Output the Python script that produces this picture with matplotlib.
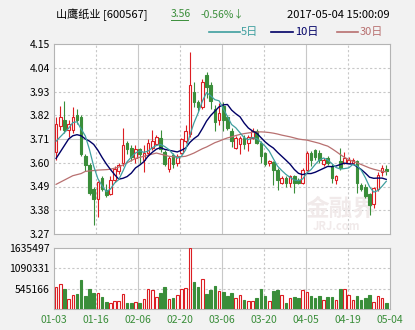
import matplotlib
matplotlib.use("Agg")
import matplotlib.pyplot as plt
from matplotlib.lines import Line2D
import numpy as np

plt.rcParams['font.family'] = ['Noto Sans CJK SC', 'DejaVu Sans']

# daily candles, 山鹰纸业 2017-01-03 .. 2017-05-04
opens = [3.65, 3.77, 3.80, 3.75, 3.75, 3.82, 3.81, 3.63, 3.59, 3.48,
         3.43, 3.53, 3.475, 3.455, 3.52, 3.56, 3.60, 3.69, 3.67, 3.62,
         3.665, 3.612, 3.646, 3.67, 3.685, 3.716, 3.65, 3.569, 3.638, 3.60,
         3.646, 3.70, 3.732, 3.926, 3.88, 3.856, 4.005, 3.96, 3.85, 3.80,
         3.864, 3.81, 3.745, 3.67, 3.685, 3.716, 3.69, 3.716, 3.747, 3.693,
         3.645, 3.597, 3.605, 3.568, 3.506, 3.53, 3.506, 3.537, 3.52, 3.506,
         3.568, 3.645, 3.66, 3.645, 3.592, 3.623, 3.584, 3.522, 3.607, 3.60,
         3.60, 3.60, 3.607, 3.499, 3.49, 3.455, 3.41, 3.48, 3.555, 3.57]
highs = [3.81, 3.865, 3.885, 3.80, 3.856, 3.85, 3.82, 3.64, 3.60, 3.49,
         3.515, 3.54, 3.50, 3.54, 3.585, 3.60, 3.76, 3.70, 3.68, 3.68,
         3.67, 3.68, 3.71, 3.754, 3.73, 3.75, 3.66, 3.63, 3.646, 3.64,
         3.716, 3.775, 4.113, 3.973, 3.89, 3.99, 4.02, 3.975, 3.866, 3.875,
         3.88, 3.82, 3.76, 3.725, 3.725, 3.73, 3.73, 3.76, 3.755, 3.70,
         3.65, 3.615, 3.61, 3.576, 3.537, 3.537, 3.545, 3.545, 3.53, 3.576,
         3.654, 3.656, 3.665, 3.66, 3.623, 3.63, 3.595, 3.545, 3.67, 3.65,
         3.627, 3.623, 3.615, 3.506, 3.50, 3.46, 3.49, 3.555, 3.59, 3.59]
lows = [3.615, 3.75, 3.74, 3.72, 3.74, 3.78, 3.63, 3.56, 3.45, 3.31,
        3.35, 3.47, 3.44, 3.45, 3.51, 3.55, 3.585, 3.64, 3.61, 3.60,
        3.60, 3.555, 3.63, 3.66, 3.68, 3.65, 3.585, 3.555, 3.575, 3.585,
        3.64, 3.69, 3.72, 3.856, 3.84, 3.848, 3.90, 3.85, 3.745, 3.775,
        3.745, 3.75, 3.675, 3.662, 3.64, 3.662, 3.654, 3.71, 3.685, 3.60,
        3.584, 3.584, 3.495, 3.474, 3.50, 3.49, 3.49, 3.46, 3.50, 3.50,
        3.56, 3.584, 3.615, 3.60, 3.584, 3.59, 3.506, 3.50, 3.568, 3.592,
        3.597, 3.592, 3.46, 3.467, 3.436, 3.36, 3.39, 3.467, 3.537, 3.545]
closes = [3.78, 3.81, 3.75, 3.78, 3.81, 3.80, 3.64, 3.59, 3.46, 3.43,
          3.51, 3.48, 3.45, 3.52, 3.57, 3.59, 3.68, 3.665, 3.625, 3.665,
          3.64, 3.646, 3.693, 3.70, 3.72, 3.665, 3.595, 3.623, 3.592, 3.63,
          3.708, 3.747, 3.96, 3.88, 3.86, 3.976, 3.95, 3.885, 3.79, 3.832,
          3.80, 3.763, 3.70, 3.716, 3.716, 3.685, 3.72, 3.747, 3.693, 3.63,
          3.595, 3.607, 3.565, 3.522, 3.53, 3.506, 3.537, 3.506, 3.506, 3.568,
          3.646, 3.615, 3.625, 3.612, 3.612, 3.60, 3.53, 3.537, 3.576, 3.623,
          3.612, 3.612, 3.506, 3.478, 3.446, 3.405, 3.483, 3.545, 3.576, 3.56]
volumes = [590, 663, 527, 273, 363, 390, 772, 336, 527, 427,
           427, 318, 200, 173, 227, 227, 390, 173, 173, 200,
           173, 273, 527, 500, 309, 427, 581, 273, 290, 363,
           527, 554, 1635, 718, 581, 800, 390, 500, 609, 472,
           445, 336, 418, 282, 363, 254, 227, 227, 282, 527,
           336, 227, 472, 500, 363, 173, 282, 309, 282, 500,
           445, 336, 282, 336, 254, 309, 309, 254, 527, 527,
           363, 254, 336, 254, 282, 363, 200, 336, 282, 173]
volumes = [v * 1000 for v in volumes]

ma5 = [3.70, 3.72, 3.74, 3.76, 3.786, 3.79, 3.756, 3.724, 3.66, 3.584,
       3.526, 3.494, 3.466, 3.478, 3.506, 3.522, 3.562, 3.605, 3.626, 3.645,
       3.655, 3.648, 3.654, 3.669, 3.68, 3.685, 3.675, 3.661, 3.639, 3.621,
       3.63, 3.66, 3.727, 3.785, 3.831, 3.885, 3.925, 3.91, 3.892, 3.887,
       3.851, 3.814, 3.777, 3.762, 3.739, 3.716, 3.707, 3.717, 3.712, 3.695,
       3.677, 3.654, 3.618, 3.584, 3.564, 3.546, 3.532, 3.52, 3.517, 3.525,
       3.553, 3.568, 3.592, 3.613, 3.622, 3.613, 3.596, 3.578, 3.571, 3.573,
       3.576, 3.592, 3.586, 3.566, 3.531, 3.489, 3.464, 3.471, 3.491, 3.514]
ma10 = [3.62, 3.65, 3.68, 3.71, 3.725, 3.73, 3.725, 3.71, 3.70, 3.685,
        3.658, 3.625, 3.595, 3.569, 3.545, 3.524, 3.528, 3.536, 3.552, 3.576,
        3.589, 3.605, 3.63, 3.648, 3.663, 3.67, 3.662, 3.658, 3.654, 3.65,
        3.658, 3.668, 3.694, 3.712, 3.726, 3.758, 3.793, 3.819, 3.839, 3.859,
        3.868, 3.87, 3.844, 3.827, 3.813, 3.784, 3.761, 3.747, 3.737, 3.717,
        3.697, 3.681, 3.668, 3.648, 3.63, 3.612, 3.593, 3.569, 3.551, 3.545,
        3.55, 3.55, 3.556, 3.565, 3.574, 3.583, 3.582, 3.585, 3.592, 3.598,
        3.595, 3.594, 3.582, 3.569, 3.552, 3.533, 3.528, 3.529, 3.529, 3.523]
ma30 = [3.50, 3.51, 3.52, 3.53, 3.54, 3.545, 3.55, 3.56, 3.562, 3.564,
        3.566, 3.567, 3.568, 3.57, 3.575, 3.58, 3.59, 3.60, 3.61, 3.62,
        3.625, 3.63, 3.635, 3.64, 3.645, 3.64, 3.635, 3.63, 3.628, 3.627,
        3.628, 3.63, 3.637, 3.645, 3.655, 3.665, 3.673, 3.683, 3.693, 3.70,
        3.708, 3.715, 3.72, 3.726, 3.731, 3.735, 3.738, 3.741, 3.742, 3.743,
        3.742, 3.74, 3.737, 3.733, 3.728, 3.724, 3.72, 3.715, 3.71, 3.707,
        3.705, 3.70, 3.695, 3.69, 3.683, 3.677, 3.665, 3.652, 3.638, 3.625,
        3.615, 3.607, 3.60, 3.592, 3.584, 3.576, 3.57, 3.565, 3.56, 3.558]

price_ticks = [3.27, 3.38, 3.49, 3.60, 3.71, 3.82, 3.93, 4.04, 4.15]
vol_ticks = [545166, 1090331, 1635497]
date_labels = ['01-03', '01-16', '02-06', '02-20', '03-06', '03-20', '04-05', '04-19', '05-04']

RED = '#dc1e23'
GREEN = '#3a8e3a'
C5 = '#3f9f9f'
C10 = '#000066'
C30 = '#b87070'
GRID = '#c8c8c8'

fig = plt.figure(figsize=(4.15, 3.30), dpi=100, facecolor='#f2f2f2')
ax = fig.add_axes([54/415, 1-234/330, 336/415, 190/330], facecolor='white')
axv = fig.add_axes([54/415, 1-309/330, 336/415, 61/330], facecolor='white')

x = np.arange(len(closes))
o = np.array(opens); c = np.array(closes)
up = c >= o
xlim = (-0.5, 79.9)
xgrid = np.linspace(xlim[0], xlim[1], len(date_labels))

# grid
for a in (ax, axv):
    for k, gx in enumerate(xgrid[1:-1], start=1):
        a.axvline(gx, color=GRID, lw=0.8, ls='-' if k % 2 == 0 else (0, (2, 2)), zorder=0)
for k, p in enumerate(price_ticks[1:-1], start=1):
    ax.axhline(p, color=GRID, lw=0.8, ls='-' if k == 4 else (0, (2, 2)), zorder=0)
for v in vol_ticks[:-1]:
    axv.axhline(v, color=GRID, lw=0.8, ls=(0, (2, 2)), zorder=0)

# watermark
ax.text(0.855, 0.135, '金融界', transform=ax.transAxes, fontsize=17, fontweight='bold',
        color='#f1eaea', ha='center', va='center', zorder=1)
ax.text(0.84, 0.04, 'JRJ.com', transform=ax.transAxes, fontsize=8, fontweight='bold',
        fontstyle='italic', color='#f1eaea', ha='center', va='center', zorder=1)

# candles
cols = np.where(up, RED, GREEN)
ax.vlines(x, lows, highs, colors=cols, lw=0.8, zorder=3)
heights = np.maximum(np.abs(c - o), 0.004)
bottoms = np.minimum(o, c)
ax.bar(x, heights, bottom=bottoms, width=0.62, color=np.where(up, 'white', GREEN),
       edgecolor=cols, linewidth=0.8, zorder=4)

ax.plot(x, ma30, color=C30, lw=0.9, zorder=5)
ax.plot(x, ma10, color=C10, lw=1.0, zorder=5)
ax.plot(x, ma5, color=C5, lw=0.9, zorder=5)

# volume
axv.bar(x, volumes, width=0.62, color=np.where(up, 'white', GREEN),
        edgecolor=cols, linewidth=0.8, zorder=3)

ax.set_xlim(*xlim)
ax.set_ylim(3.27, 4.15)
ax.set_yticks(price_ticks)
ax.set_yticklabels(['%.2f' % p for p in price_ticks])
ax.set_xticks([])
axv.set_xlim(*xlim)
axv.set_ylim(0, vol_ticks[-1])
axv.set_yticks(vol_ticks)
axv.set_yticklabels([str(v) for v in vol_ticks])
axv.set_xticks(xgrid)
axv.set_xticklabels(date_labels, color=GREEN)

for a in (ax, axv):
    a.tick_params(length=0, labelsize=7.5, pad=3, colors='black')
    for s in a.spines.values():
        s.set_color('#b4b4b4')
        s.set_linewidth(0.8)
axv.tick_params(axis='x', labelcolor=GREEN, pad=4)

# header
fig.text(56/415, 1-15/330, '山鹰纸业 [600567]', fontsize=8, ha='left', va='center')
fig.text(171/415, 1-14/330, '3.56', fontsize=7.5, color=GREEN, ha='left', va='center')
fig.add_artist(Line2D([171/415, 188/415], [1-20/330, 1-20/330], color=GREEN, lw=0.7))
fig.text(201/415, 1-14/330, '-0.56%↓', fontsize=7.5, color=GREEN, ha='left', va='center')
fig.text(390/415, 1-15/330, '2017-05-04 15:00:09', fontsize=8, ha='right', va='center')

for x0, x1, tx, col, lab in [(209, 240, 241, C5, '5日'), (271, 293, 295, C10, '10日'),
                             (337, 358, 360, C30, '30日')]:
    fig.add_artist(Line2D([x0/415, x1/415], [1-32/330, 1-32/330], color=col, lw=1.2))
    fig.text(tx/415, 1-32/330, lab, fontsize=8, color=col, ha='left', va='center')

plt.savefig('out.png', dpi=100, facecolor=fig.get_facecolor())
